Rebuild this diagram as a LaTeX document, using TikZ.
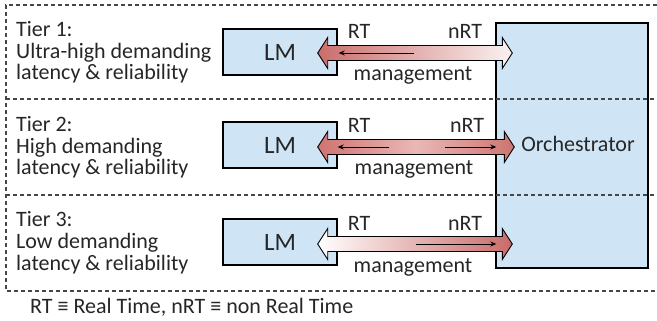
\documentclass[tikz,border=0pt]{standalone}
\usepackage{fontspec}
\setmainfont{Carlito}
\usetikzlibrary{calc,arrows.meta}
\definecolor{boxblue}{RGB}{207,229,245}
\definecolor{arrred}{RGB}{192,80,77}
\definecolor{arrpink}{RGB}{233,184,182}
\definecolor{txt}{RGB}{38,38,38}
\definecolor{dashgray}{RGB}{70,70,70}
\pgfdeclarehorizontalshading{fadeleft}{100bp}{color(0bp)=(arrred); color(14bp)=(arrred); color(80bp)=(white); color(100bp)=(white)}
\pgfdeclarehorizontalshading{fadeboth}{100bp}{color(0bp)=(arrred); color(12bp)=(arrred); color(50bp)=(arrpink); color(88bp)=(arrred); color(100bp)=(arrred)}
\pgfdeclarehorizontalshading{faderight}{100bp}{color(0bp)=(white); color(25bp)=(white); color(84bp)=(arrred); color(100bp)=(arrred)}
\newcommand\bigdbl[3]{%
  \shadedraw[arrowbody, shading=#3] (#1) -- ++(10,-15.5) -- ++(0,8) -- ($(#2)+(-10,-7.5)$) -- ++(0,-8) -- (#2) -- ++(-10,15.5) -- ++(0,-8) -- ($(#1)+(10,7.5)$) -- ++(0,8) -- cycle;}
\begin{document}
\begin{tikzpicture}[x=1pt,y=-1pt,
  lmbox/.style={draw=black, fill=boxblue, line width=1.4pt, minimum width=114pt, minimum height=46pt, inner sep=0pt, text=txt, font=\fontsize{25}{29}\selectfont},
  orchbox/.style={draw=black, fill=boxblue, line width=1.4pt, minimum width=152pt, minimum height=245pt, inner sep=0pt},
  lbl/.style={inner sep=0pt, text=txt, font=\fontsize{22}{26}\selectfont},
  tierlbl/.style={lbl, anchor=base west, align=left, font=\fontsize{22}{21.7}\selectfont},
  arrowbody/.style={draw=black, line width=0.9pt, line join=miter},
  thinarrow/.style={draw=black, line width=0.9pt, -{Stealth[length=6pt,width=5pt]}},
  tierline/.style={draw=dashgray, line width=1.2pt, dash pattern=on 4pt off 3pt}]
\useasboundingbox (0,0) rectangle (657,321);
% boxes
\node[orchbox] (orch) at (572,145.5) {};
\node[lbl, anchor=base] (orchtxt) at (578,151.7) {Orchestrator};
\node[lmbox] (lm1) at (280,52) {LM};
\node[lmbox] (lm2) at (280,145) {LM};
\node[lmbox] (lm3) at (280,242) {LM};
% tier labels (base anchor = last line)
\node[tierlbl] (t1) at (16,80) {Tier 1:\\Ultra-high demanding\\latency \& reliability};
\node[tierlbl] (t2) at (16,175) {Tier 2:\\High demanding\\latency \& reliability};
\node[tierlbl] (t3) at (16,270) {Tier 3:\\Low demanding\\latency \& reliability};
% arrow end points
\coordinate (a1l) at ($(lm1.east)+(-20,1)$);
\coordinate (a1r) at ($(orch.west |- a1l)+(17,0)$);
\coordinate (a2l) at ($(lm2.east)+(-20,2)$);
\coordinate (a2r) at ($(orch.west |- a2l)+(19,0)$);
\coordinate (a3l) at ($(lm3.east)+(-20,2)$);
\coordinate (a3r) at ($(orch.west |- a3l)+(17,0)$);
% big arrows
\bigdbl{a1l}{a1r}{fadeleft}
\bigdbl{a2l}{a2r}{fadeboth}
\bigdbl{a3l}{a3r}{faderight}
% thin arrows
\draw[thinarrow] ($(a1l)+(96,0)$) -- ($(a1l)+(21,0)$);
\draw[thinarrow] ($(a2l)+(71,0)$) -- ($(a2l)+(20,0)$);
\draw[thinarrow] ($(a2r)+(-69,0)$) -- ($(a2r)+(-18,0)$);
\draw[thinarrow] ($(a3l)+(98,0)$) -- ($(a3r)+(-16,0)$);
% labels
\foreach \i in {1,2,3}{
  \node[lbl, anchor=base west] (rt\i) at ($(a\i l)+(30,-14)$) {RT};
  \node[lbl, anchor=base east] (nrt\i) at ($(a\i r)+(-30,-14)$) {nRT};
  \node[lbl, anchor=base] (mg\i) at ($(a\i l)!0.5!(a\i r)+(-2,28)$) {management};
}
% tier separators
\draw[tierline] (657,5) -- (6,5) -- (6,291) -- (657,291);
\draw[tierline] (6,99) -- (657,99);
\draw[tierline] (6,195) -- (657,195);
% footnote
\node[lbl, anchor=base west] (foot) at (30,313) {RT ≡ Real Time, nRT ≡ non Real Time};
\end{tikzpicture}
\end{document}
